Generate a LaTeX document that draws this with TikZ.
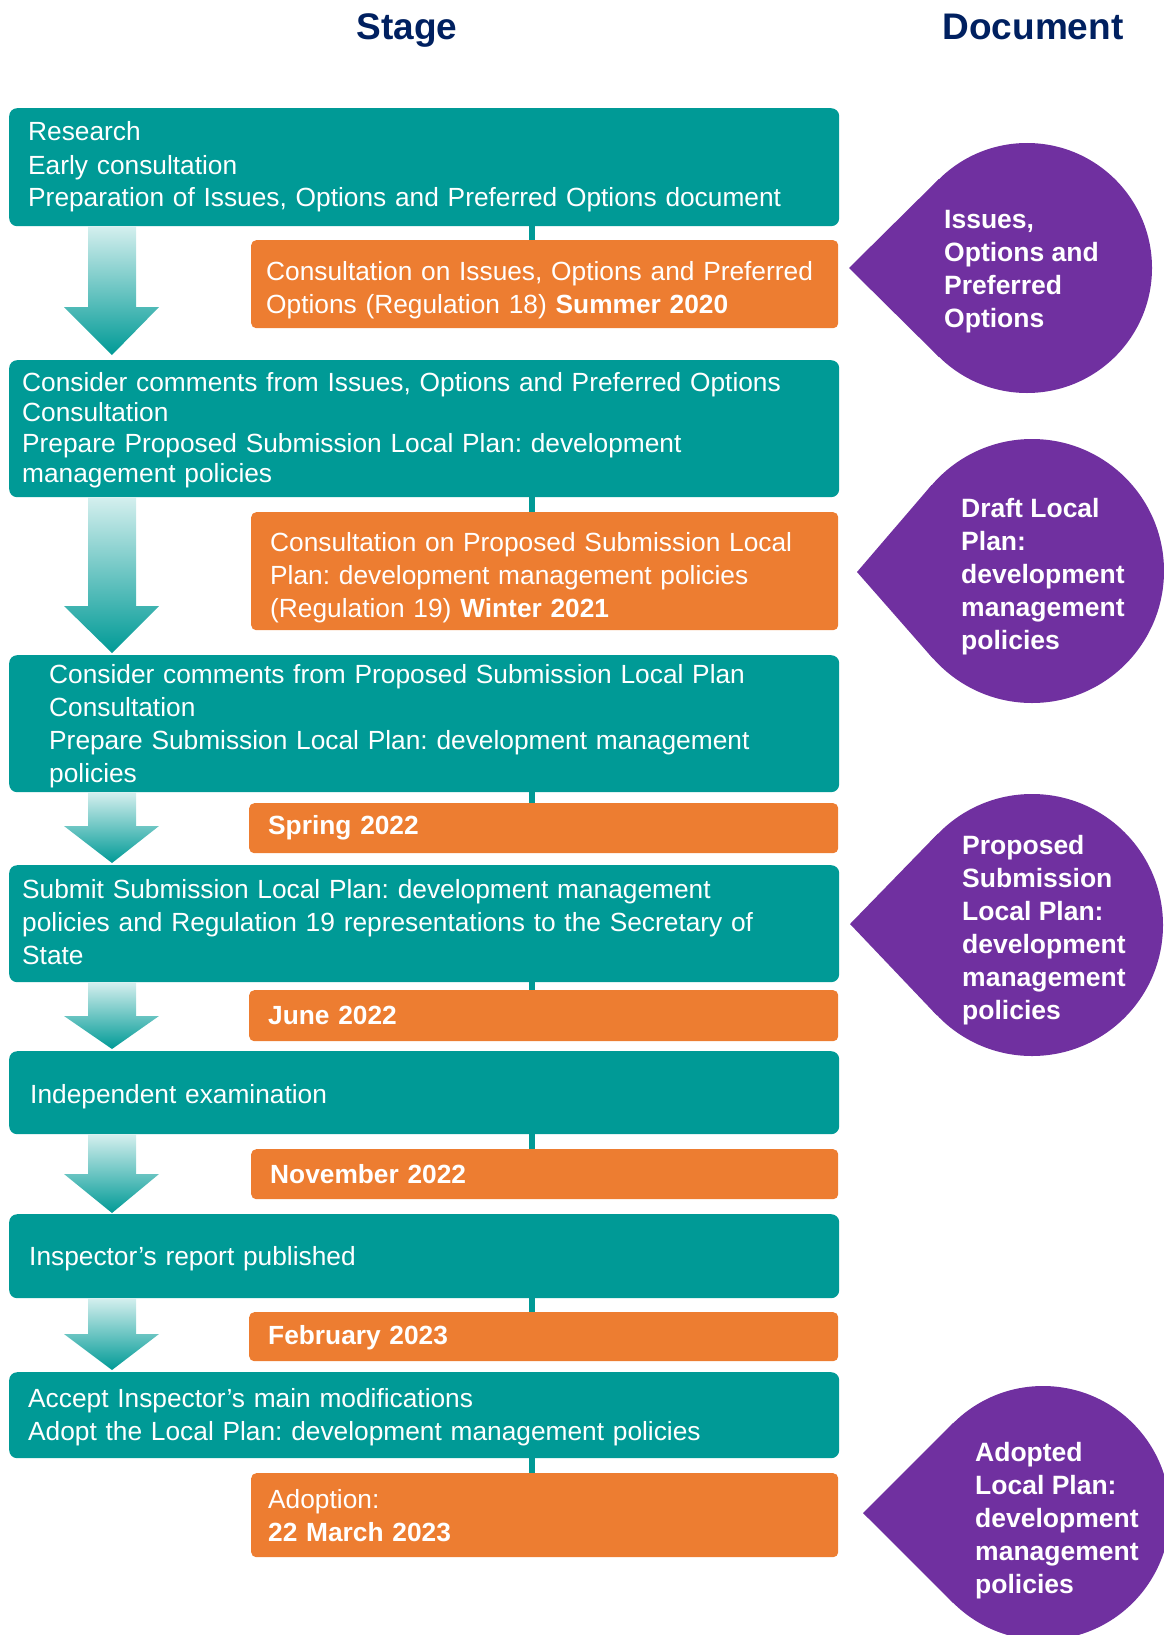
\documentclass[tikz,border=0pt]{standalone}
\usepackage{fontspec}
\setmainfont{Liberation Sans}
\usetikzlibrary{calc}
\frenchspacing

\definecolor{stageteal}{HTML}{009A96}
\definecolor{dateorange}{HTML}{ED7D31}
\definecolor{docpurple}{HTML}{7030A0}
\definecolor{headnavy}{HTML}{002060}
\definecolor{arrowpale}{HTML}{D4EFEE}

\begin{document}
\begin{tikzpicture}
  \tikzset{
    stagebox/.style={
      rectangle,
      rounded corners=8pt,
      fill=stageteal,
      text=white,
      anchor=north west,
      align=left,
      inner ysep=0pt,
      font=\fontsize{26.3}{33}\selectfont
    },
    datebox/.style={
      rectangle,
      rounded corners=5pt,
      fill=dateorange,
      text=white,
      anchor=north west,
      align=left,
      inner ysep=0pt,
      font=\fontsize{26.3}{33}\selectfont
    },
    docdrop/.style={circle, fill=docpurple, inner sep=0pt},
    doctext/.style={
      anchor=west,
      text=white,
      align=left,
      inner sep=0pt,
      font=\bfseries\fontsize{26.5}{33}\selectfont
    },
    heading/.style={
      anchor=base,
      text=headnavy,
      inner sep=0pt,
      font=\bfseries\fontsize{37}{40}\selectfont
    },
    link/.style={draw=stageteal, line width=6pt},
    downarrow/.style={top color=arrowpale, bottom color=stageteal}
  }

  \useasboundingbox (0pt,0pt) rectangle (1164pt,-1635pt);

  \node[heading] (stage) at (407pt,-40pt) {Stage};
  \node[heading] (document) at (1033pt,-40pt) {Document};

  % stages
  \node[stagebox, minimum height=118pt, inner xsep=19pt, text width=792pt] (s1) at (9pt,-108pt)
    {Research\\Early consultation\\Preparation of Issues, Options and Preferred Options document};
  \node[stagebox, minimum height=137pt, inner xsep=13pt, text width=804pt, text height=22pt,
        font=\fontsize{26.3}{30.5}\selectfont] (s2) at (9pt,-360pt)
    {Consider comments from Issues, Options and Preferred Options\\Consultation\\Prepare Proposed Submission Local Plan: development\\management policies};
  \node[stagebox, minimum height=137pt, inner xsep=40pt, text width=750pt, text height=25pt] (s3) at (9pt,-655pt)
    {Consider comments from Proposed Submission Local Plan\\Consultation\\Prepare Submission Local Plan: development management\\policies};
  \node[stagebox, minimum height=117pt, inner xsep=13pt, text width=804pt, text height=15pt] (s4) at (9pt,-865pt)
    {Submit Submission Local Plan: development management\\policies and Regulation 19 representations to the Secretary of\\State};
  \node[stagebox, minimum height=83pt, inner xsep=21pt, text width=788pt, text height=27pt] (s5) at (9pt,-1051pt)
    {Independent examination};
  \node[stagebox, minimum height=84pt, inner xsep=20pt, text width=790pt, text height=25pt] (s6) at (9pt,-1214pt)
    {Inspector’s report published};
  \node[stagebox, minimum height=86pt, inner xsep=19pt, text width=792pt, text height=23pt] (s7) at (9pt,-1372pt)
    {Accept Inspector’s main modifications\\Adopt the Local Plan: development management policies};

  % dates
  \node[datebox, minimum height=88pt, inner xsep=15pt, text width=557pt, text height=32pt] (o1) at (251pt,-240pt)
    {Consultation on Issues, Options and Preferred\\Options (Regulation 18) \textbf{Summer 2020}};
  \node[datebox, minimum height=118pt, inner xsep=19pt, text width=549pt, text height=33pt] (o2) at (251pt,-512pt)
    {Consultation on Proposed Submission Local\\Plan: development management policies\\(Regulation 19) \textbf{Winter 2021}};
  \node[datebox, minimum height=50pt, inner xsep=19pt, text width=551pt] (o3) at (249pt,-803pt)
    {\textbf{Spring 2022}};
  \node[datebox, minimum height=51pt, inner xsep=19pt, text width=551pt] (o4) at (249pt,-990pt)
    {\textbf{June 2022}};
  \node[datebox, minimum height=50pt, inner xsep=19pt, text width=549pt] (o5) at (251pt,-1149pt)
    {\textbf{November 2022}};
  \node[datebox, minimum height=49pt, inner xsep=19pt, text width=551pt, text height=21pt] (o6) at (249pt,-1312pt)
    {\textbf{February 2023}};
  \node[datebox, minimum height=84pt, inner xsep=17pt, text width=553pt] (o7) at (251pt,-1473pt)
    {Adoption:\\\textbf{22 March 2023}};

  \coordinate (linex) at (532pt,0pt);
  \foreach \s/\o in {s1/o1, s2/o2, s3/o3, s4/o4, s5/o5, s6/o6, s7/o7}
    \draw[link] (\s.south -| linex) -- (\o.north -| linex);

  % arrows between stages
  \foreach \from/\to/\tp/\hd in {s1/s2/5/53, s2/s3/2/49, s3/s4/2/39, s4/s5/2/35, s5/s6/1/40, s6/s7/2/38}
    \shade[downarrow] ($(\from.south west)+(79pt,0pt)$) -- ($(\from.south west)+(127pt,0pt)$)
      -- ($(\to.north west)+(127pt,\hd pt)$) -- ($(\to.north west)+(150pt,\hd pt)$)
      -- ($(\to.north west)+(103pt,\tp pt)$) -- ($(\to.north west)+(55pt,\hd pt)$)
      -- ($(\to.north west)+(79pt,\hd pt)$) -- cycle;

  % documents
  \node[docdrop, minimum size=250pt] (d1) at (1027pt,-268pt) {};
  \coordinate (d1tip) at (849pt,-268pt);
  \fill[docpurple] (d1tip) -- (tangent cs:node=d1,point={(d1tip)},solution=1)
    -- (d1.center) -- (tangent cs:node=d1,point={(d1tip)},solution=2) -- cycle;
  \node[doctext] (d1txt) at (944pt,-272pt) {Issues,\\Options and\\Preferred\\Options};

  \node[docdrop, minimum size=264pt] (d2) at (1032pt,-571pt) {};
  \coordinate (d2tip) at (857pt,-572pt);
  \fill[docpurple] (d2tip) -- (tangent cs:node=d2,point={(d2tip)},solution=1)
    -- (d2.center) -- (tangent cs:node=d2,point={(d2tip)},solution=2) -- cycle;
  \node[doctext] (d2txt) at (961pt,-577pt) {Draft Local\\Plan:\\development\\management\\policies};

  \node[docdrop, minimum size=262pt] (d3) at (1032pt,-925pt) {};
  \coordinate (d3tip) at (850pt,-924pt);
  \fill[docpurple] (d3tip) -- (tangent cs:node=d3,point={(d3tip)},solution=1)
    -- (d3.center) -- (tangent cs:node=d3,point={(d3tip)},solution=2) -- cycle;
  \node[doctext] (d3txt) at (962pt,-930pt) {Proposed\\Submission\\Local Plan:\\development\\management\\policies};

  \node[docdrop, minimum size=254pt] (d4) at (1043pt,-1513pt) {};
  \coordinate (d4tip) at (863pt,-1513pt);
  \fill[docpurple] (d4tip) -- (tangent cs:node=d4,point={(d4tip)},solution=1)
    -- (d4.center) -- (tangent cs:node=d4,point={(d4tip)},solution=2) -- cycle;
  \node[doctext] (d4txt) at (975pt,-1521pt) {Adopted\\Local Plan:\\development\\management\\policies};
\end{tikzpicture}
\end{document}
